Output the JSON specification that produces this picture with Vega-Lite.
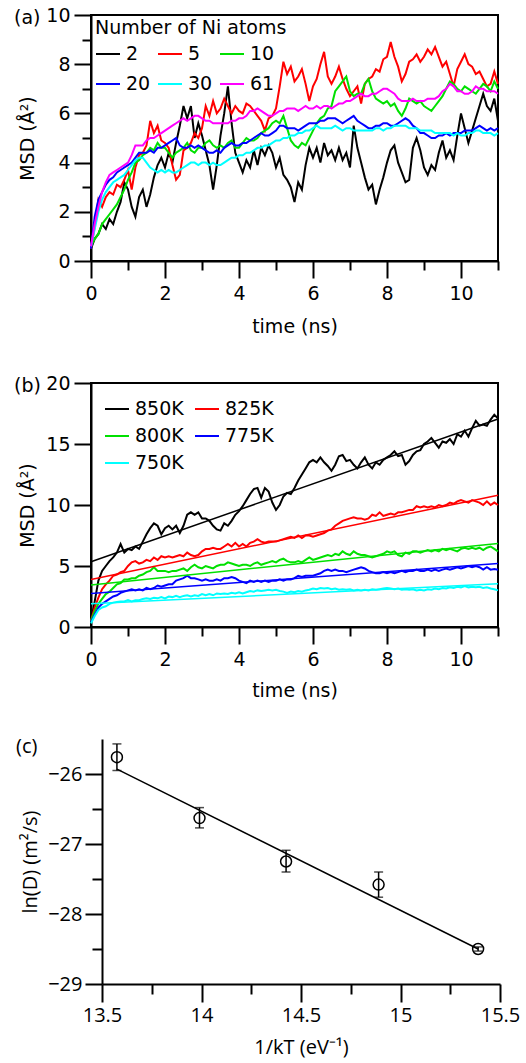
{
"$schema": "https://vega.github.io/schema/vega-lite/v6.json",
"background": "white",
"padding": {"left": 13, "top": 5, "right": 2, "bottom": 2},
"columns": 1,
"spacing": 36,
"resolve": {"scale": {"x": "independent", "y": "independent", "color": "independent"}},
"config": {
  "font": "DejaVu Sans",
  "view": {"stroke": "black", "strokeWidth": 2},
  "axis": {"grid": false, "domainColor": "black", "domainWidth": 2, "tickColor": "black", "tickWidth": 2, "labelColor": "black", "titleColor": "black", "labelFontSize": 19, "titleFontSize": 19, "titleFontWeight": "normal", "labelFlush": false, "labelOverlap": false},
  "legend": {"labelFontSize": 19, "titleFontSize": 19, "titleFontWeight": "normal", "labelColor": "black", "titleColor": "black", "symbolType": "stroke", "symbolSize": 576, "symbolStrokeWidth": 2, "labelOffset": 5, "padding": 0, "titleLimit": 400, "labelLimit": 200},
  "title": {"fontSize": 19, "fontWeight": "normal", "anchor": "start", "frame": "group", "color": "black"}
},
"concat": [
{
  "width": 407, "height": 246,
  "title": {"text": "(a)", "dx": -77, "baseline": "middle", "offset": -31},
  "data": {"values": [
{"t":0.0,"2":0.5,"5":0.5,"10":0.6,"20":0.5,"30":0.6,"61":0.6},
{"t":0.1,"2":0.9,"5":1.4,"10":0.9,"20":1.8,"30":1.3,"61":1.5},
{"t":0.2,"2":1.1,"5":2.5,"10":1.1,"20":2.5,"30":2.0,"61":2.2},
{"t":0.3,"2":1.5,"5":2.2,"10":1.5,"20":2.8,"30":2.5,"61":2.8},
{"t":0.4,"2":1.3,"5":2.6,"10":1.7,"20":3.1,"30":2.8,"61":3.2},
{"t":0.5,"2":1.7,"5":2.8,"10":1.9,"20":3.3,"30":3.0,"61":3.5},
{"t":0.6,"2":1.5,"5":2.7,"10":2.1,"20":3.4,"30":3.2,"61":3.6},
{"t":0.7,"2":2.0,"5":3.1,"10":2.3,"20":3.6,"30":3.3,"61":3.7},
{"t":0.8,"2":2.4,"5":3.0,"10":2.6,"20":3.7,"30":3.4,"61":3.8},
{"t":0.9,"2":3.2,"5":3.3,"10":2.9,"20":3.8,"30":3.5,"61":3.9},
{"t":1.0,"2":2.9,"5":3.7,"10":3.3,"20":3.9,"30":3.7,"61":4.0},
{"t":1.1,"2":2.2,"5":2.9,"10":3.6,"20":4.0,"30":3.9,"61":4.3},
{"t":1.2,"2":1.8,"5":3.8,"10":4.0,"20":4.2,"30":4.1,"61":4.7},
{"t":1.3,"2":2.6,"5":4.3,"10":4.1,"20":4.4,"30":4.2,"61":4.7},
{"t":1.4,"2":2.9,"5":4.4,"10":4.3,"20":4.4,"30":4.2,"61":4.7},
{"t":1.5,"2":2.2,"5":4.7,"10":4.4,"20":4.4,"30":4.0,"61":4.9},
{"t":1.6,"2":2.7,"5":5.7,"10":4.6,"20":4.5,"30":3.8,"61":5.0},
{"t":1.7,"2":3.4,"5":5.2,"10":4.5,"20":4.4,"30":3.7,"61":5.0},
{"t":1.8,"2":3.9,"5":5.5,"10":4.8,"20":4.6,"30":3.6,"61":5.1},
{"t":1.9,"2":4.2,"5":4.9,"10":4.6,"20":4.6,"30":3.7,"61":5.2},
{"t":2.0,"2":3.8,"5":4.8,"10":4.6,"20":4.7,"30":3.6,"61":5.3},
{"t":2.1,"2":4.4,"5":4.6,"10":4.4,"20":4.8,"30":3.7,"61":5.4},
{"t":2.2,"2":4.0,"5":3.9,"10":4.2,"20":4.9,"30":3.6,"61":5.5},
{"t":2.3,"2":4.8,"5":3.3,"10":4.4,"20":5.0,"30":3.6,"61":5.6},
{"t":2.4,"2":5.5,"5":3.5,"10":4.5,"20":4.7,"30":3.7,"61":5.7},
{"t":2.5,"2":6.3,"5":4.5,"10":4.6,"20":4.6,"30":3.8,"61":5.8},
{"t":2.6,"2":5.8,"5":4.6,"10":4.8,"20":4.6,"30":3.9,"61":5.7},
{"t":2.7,"2":6.3,"5":4.8,"10":4.5,"20":4.7,"30":4.0,"61":5.8},
{"t":2.8,"2":5.0,"5":5.2,"10":4.4,"20":4.6,"30":4.0,"61":5.9},
{"t":2.9,"2":5.6,"5":5.0,"10":4.6,"20":4.7,"30":3.9,"61":5.9},
{"t":3.0,"2":5.1,"5":5.4,"10":4.6,"20":4.6,"30":4.0,"61":5.8},
{"t":3.1,"2":4.5,"5":6.3,"10":4.8,"20":4.5,"30":4.0,"61":5.7},
{"t":3.2,"2":3.9,"5":5.9,"10":4.9,"20":4.4,"30":3.9,"61":5.7},
{"t":3.3,"2":2.9,"5":6.5,"10":4.7,"20":4.4,"30":4.0,"61":5.6},
{"t":3.4,"2":3.9,"5":6.0,"10":4.6,"20":4.5,"30":3.9,"61":5.6},
{"t":3.5,"2":5.1,"5":6.2,"10":4.7,"20":4.4,"30":3.9,"61":5.6},
{"t":3.6,"2":6.0,"5":6.6,"10":4.6,"20":4.6,"30":4.0,"61":5.6},
{"t":3.7,"2":7.1,"5":6.3,"10":4.8,"20":4.7,"30":4.1,"61":5.6},
{"t":3.8,"2":5.6,"5":6.0,"10":4.9,"20":4.8,"30":4.2,"61":5.7},
{"t":3.9,"2":4.4,"5":6.3,"10":4.6,"20":4.7,"30":4.2,"61":5.7},
{"t":4.0,"2":4.0,"5":6.1,"10":4.6,"20":4.7,"30":4.3,"61":5.8},
{"t":4.1,"2":3.6,"5":6.0,"10":4.8,"20":4.8,"30":4.3,"61":5.8},
{"t":4.2,"2":4.1,"5":6.4,"10":5.0,"20":4.8,"30":4.4,"61":5.9},
{"t":4.3,"2":3.8,"5":6.3,"10":4.9,"20":4.9,"30":4.4,"61":6.1},
{"t":4.4,"2":4.5,"5":6.1,"10":4.9,"20":5.0,"30":4.5,"61":6.1},
{"t":4.5,"2":3.9,"5":5.9,"10":5.0,"20":5.1,"30":4.6,"61":6.2},
{"t":4.6,"2":4.6,"5":5.7,"10":5.2,"20":5.2,"30":4.6,"61":6.1},
{"t":4.7,"2":4.3,"5":5.3,"10":5.3,"20":5.1,"30":4.7,"61":6.0},
{"t":4.8,"2":4.7,"5":5.8,"10":5.4,"20":5.1,"30":4.7,"61":5.9},
{"t":4.9,"2":4.4,"5":5.9,"10":5.6,"20":5.2,"30":4.8,"61":5.9},
{"t":5.0,"2":3.8,"5":6.2,"10":5.7,"20":5.3,"30":4.9,"61":6.0},
{"t":5.1,"2":4.2,"5":7.1,"10":5.6,"20":5.5,"30":4.9,"61":6.1},
{"t":5.2,"2":3.5,"5":8.1,"10":5.9,"20":5.5,"30":5.0,"61":6.1},
{"t":5.3,"2":3.3,"5":7.6,"10":5.4,"20":5.4,"30":5.0,"61":6.2},
{"t":5.4,"2":3.0,"5":7.9,"10":4.9,"20":5.4,"30":5.1,"61":6.2},
{"t":5.5,"2":2.4,"5":7.3,"10":4.7,"20":5.4,"30":5.1,"61":6.2},
{"t":5.6,"2":3.2,"5":7.5,"10":4.6,"20":5.3,"30":5.2,"61":6.1},
{"t":5.7,"2":2.9,"5":7.8,"10":4.8,"20":5.4,"30":5.2,"61":6.2},
{"t":5.8,"2":3.9,"5":7.2,"10":4.7,"20":5.5,"30":5.3,"61":6.3},
{"t":5.9,"2":4.6,"5":6.5,"10":5.0,"20":5.6,"30":5.3,"61":6.2},
{"t":6.0,"2":4.2,"5":7.1,"10":5.3,"20":5.6,"30":5.4,"61":6.2},
{"t":6.1,"2":4.6,"5":7.4,"10":5.6,"20":5.6,"30":5.5,"61":6.3},
{"t":6.2,"2":4.0,"5":8.0,"10":5.8,"20":5.7,"30":5.4,"61":6.2},
{"t":6.3,"2":4.8,"5":8.5,"10":5.9,"20":5.7,"30":5.4,"61":6.3},
{"t":6.4,"2":4.3,"5":7.5,"10":6.2,"20":5.8,"30":5.4,"61":6.3},
{"t":6.5,"2":4.5,"5":7.2,"10":6.3,"20":5.8,"30":5.4,"61":6.2},
{"t":6.6,"2":4.1,"5":7.5,"10":6.9,"20":5.8,"30":5.5,"61":6.3},
{"t":6.7,"2":4.6,"5":7.9,"10":7.1,"20":5.7,"30":5.4,"61":6.4},
{"t":6.8,"2":4.1,"5":7.4,"10":7.3,"20":5.6,"30":5.3,"61":6.4},
{"t":6.9,"2":4.4,"5":7.0,"10":7.5,"20":5.7,"30":5.4,"61":6.5},
{"t":7.0,"2":3.8,"5":6.7,"10":6.9,"20":5.8,"30":5.4,"61":6.5},
{"t":7.1,"2":5.5,"5":6.9,"10":6.7,"20":5.9,"30":5.3,"61":6.6},
{"t":7.2,"2":4.6,"5":7.1,"10":6.8,"20":5.7,"30":5.3,"61":6.7},
{"t":7.3,"2":4.0,"5":6.4,"10":6.8,"20":5.6,"30":5.3,"61":6.8},
{"t":7.4,"2":3.4,"5":7.2,"10":7.2,"20":5.5,"30":5.3,"61":6.7},
{"t":7.5,"2":2.9,"5":7.4,"10":7.4,"20":5.4,"30":5.3,"61":6.7},
{"t":7.6,"2":3.1,"5":7.5,"10":6.9,"20":5.4,"30":5.3,"61":6.8},
{"t":7.7,"2":2.3,"5":7.8,"10":6.6,"20":5.5,"30":5.4,"61":6.8},
{"t":7.8,"2":2.9,"5":7.7,"10":6.5,"20":5.5,"30":5.4,"61":6.9},
{"t":7.9,"2":3.4,"5":8.2,"10":6.4,"20":5.6,"30":5.3,"61":7.0},
{"t":8.0,"2":4.0,"5":8.3,"10":6.5,"20":5.6,"30":5.4,"61":7.0},
{"t":8.1,"2":4.5,"5":8.9,"10":6.3,"20":5.5,"30":5.4,"61":6.9},
{"t":8.2,"2":4.7,"5":8.3,"10":6.4,"20":5.5,"30":5.5,"61":6.8},
{"t":8.3,"2":4.0,"5":7.9,"10":6.1,"20":5.6,"30":5.5,"61":6.6},
{"t":8.4,"2":3.6,"5":7.3,"10":5.9,"20":5.7,"30":5.5,"61":6.5},
{"t":8.5,"2":3.2,"5":7.6,"10":6.2,"20":5.8,"30":5.5,"61":6.5},
{"t":8.6,"2":3.3,"5":8.1,"10":6.6,"20":5.7,"30":5.4,"61":6.5},
{"t":8.7,"2":4.6,"5":8.2,"10":6.5,"20":5.5,"30":5.4,"61":6.6},
{"t":8.8,"2":5.0,"5":8.4,"10":6.4,"20":5.4,"30":5.4,"61":6.5},
{"t":8.9,"2":4.5,"5":8.1,"10":6.5,"20":5.2,"30":5.3,"61":6.5},
{"t":9.0,"2":3.8,"5":8.3,"10":6.3,"20":5.2,"30":5.3,"61":6.5},
{"t":9.1,"2":3.5,"5":8.6,"10":6.2,"20":5.1,"30":5.3,"61":6.6},
{"t":9.2,"2":3.9,"5":8.4,"10":6.1,"20":5.0,"30":5.3,"61":6.6},
{"t":9.3,"2":3.7,"5":8.7,"10":6.3,"20":5.0,"30":5.2,"61":6.6},
{"t":9.4,"2":4.4,"5":8.3,"10":6.5,"20":5.1,"30":5.2,"61":6.7},
{"t":9.5,"2":4.9,"5":7.9,"10":6.7,"20":5.1,"30":5.2,"61":6.9},
{"t":9.6,"2":4.2,"5":8.1,"10":7.0,"20":5.2,"30":5.2,"61":7.0},
{"t":9.7,"2":4.5,"5":7.6,"10":7.3,"20":5.1,"30":5.2,"61":7.2},
{"t":9.8,"2":4.1,"5":7.1,"10":7.2,"20":5.2,"30":5.1,"61":7.1},
{"t":9.9,"2":5.1,"5":7.8,"10":7.0,"20":5.2,"30":5.2,"61":6.9},
{"t":10.0,"2":6.0,"5":8.1,"10":6.9,"20":5.2,"30":5.1,"61":6.9},
{"t":10.1,"2":5.4,"5":8.4,"10":7.1,"20":5.3,"30":5.1,"61":6.8},
{"t":10.2,"2":4.8,"5":8.0,"10":7.0,"20":5.3,"30":5.2,"61":6.8},
{"t":10.3,"2":5.3,"5":7.9,"10":6.9,"20":5.3,"30":5.2,"61":6.9},
{"t":10.4,"2":5.8,"5":7.6,"10":6.8,"20":5.4,"30":5.3,"61":7.1},
{"t":10.5,"2":6.3,"5":7.7,"10":7.0,"20":5.5,"30":5.3,"61":7.0},
{"t":10.6,"2":6.8,"5":7.4,"10":7.2,"20":5.4,"30":5.2,"61":7.0},
{"t":10.7,"2":6.3,"5":7.1,"10":7.1,"20":5.3,"30":5.2,"61":6.9},
{"t":10.8,"2":6.1,"5":7.2,"10":6.9,"20":5.4,"30":5.2,"61":6.9},
{"t":10.9,"2":6.6,"5":7.7,"10":7.3,"20":5.3,"30":5.1,"61":6.9},
{"t":11.0,"2":5.7,"5":7.2,"10":7.0,"20":5.4,"30":5.2,"61":6.8}
  ]},
  "transform": [{"fold": ["2","5","10","20","30","61"], "as": ["n","v"]}],
  "mark": {"type": "line", "strokeWidth": 2},
  "encoding": {
    "x": {"field": "t", "type": "quantitative", "scale": {"domain": [0, 11], "nice": false},
      "axis": {"title": "time (ns)", "values": [0,1,2,3,4,5,6,7,8,9,10,11], "labelExpr": "datum.value % 2 === 0 ? datum.label : ''", "tickSize": {"condition": {"test": "datum.value % 2 === 0", "value": 17}, "value": 9}, "labelPadding": 6, "titlePadding": 14}},
    "y": {"field": "v", "type": "quantitative", "scale": {"domain": [0, 10], "nice": false},
      "axis": {"title": "MSD (Å²)", "values": [0,1,2,3,4,5,6,7,8,9,10], "labelExpr": "datum.value % 2 === 0 ? datum.label : ''", "tickSize": {"condition": {"test": "datum.value % 2 === 0", "value": 17}, "value": 9}, "labelPadding": 4, "titlePadding": 8}},
    "color": {"field": "n", "type": "nominal",
      "scale": {"domain": ["2","5","10","20","30","61"], "range": ["#000000","#ff0000","#00e000","#0000ff","#00ffff","#ff00ff"]},
      "legend": {"title": "Number of Ni atoms", "orient": "top-left", "offset": 4, "direction": "horizontal", "columns": 3, "columnPadding": 3, "rowPadding": 7, "titlePadding": 3}}
  }
},
{
  "width": 407, "height": 244,
  "title": {"text": "(b)", "dx": -77, "baseline": "middle", "offset": -31},
  "encoding": {
    "x": {"field": "t", "type": "quantitative", "scale": {"domain": [0, 11], "nice": false},
      "axis": {"title": "time (ns)", "values": [0,1,2,3,4,5,6,7,8,9,10,11], "labelExpr": "datum.value % 2 === 0 ? datum.label : ''", "tickSize": {"condition": {"test": "datum.value % 2 === 0", "value": 17}, "value": 9}, "labelPadding": 6, "titlePadding": 12}},
    "y": {"field": "v", "type": "quantitative", "scale": {"domain": [0, 20], "nice": false},
      "axis": {"title": "MSD (Å²)", "values": [0,5,10,15,20], "tickSize": 17, "labelPadding": 4, "titlePadding": 8}},
    "color": {"field": "T", "type": "nominal",
      "scale": {"domain": ["850K","825K","800K","775K","750K"], "range": ["#000000","#ff0000","#00e000","#0000ff","#00ffff"]},
      "legend": {"title": null, "orient": "top-left", "offset": 13, "direction": "horizontal", "columns": 2, "columnPadding": 7, "rowPadding": 4}}
  },
  "layer": [
    {
      "data": {"values": [
{"t":0.0,"850K":0.5,"825K":0.5,"800K":0.5,"775K":0.4,"750K":0.3},
{"t":0.1,"850K":2.1,"825K":1.6,"800K":1.3,"775K":1.0,"750K":0.9},
{"t":0.2,"850K":3.8,"825K":2.4,"800K":1.9,"775K":1.6,"750K":1.4},
{"t":0.3,"850K":4.6,"825K":3.1,"800K":2.3,"775K":1.9,"750K":1.6},
{"t":0.4,"850K":5.0,"825K":3.5,"800K":2.7,"775K":2.1,"750K":1.7},
{"t":0.5,"850K":5.4,"825K":3.8,"800K":2.9,"775K":2.3,"750K":1.9},
{"t":0.6,"850K":5.7,"825K":4.2,"800K":3.2,"775K":2.5,"750K":2.0},
{"t":0.7,"850K":6.1,"825K":4.3,"800K":3.5,"775K":2.6,"750K":2.05},
{"t":0.8,"850K":6.8,"825K":4.5,"800K":3.6,"775K":2.8,"750K":2.1},
{"t":0.9,"850K":6.1,"825K":4.6,"800K":3.9,"775K":2.9,"750K":2.1},
{"t":1.0,"850K":6.4,"825K":5.0,"800K":3.9,"775K":3.0,"750K":2.2},
{"t":1.1,"850K":6.3,"825K":5.3,"800K":4.0,"775K":3.1,"750K":2.1},
{"t":1.2,"850K":6.6,"825K":5.4,"800K":4.0,"775K":3.0,"750K":2.2},
{"t":1.3,"850K":6.4,"825K":5.2,"800K":4.2,"775K":3.1,"750K":2.2},
{"t":1.4,"850K":7.0,"825K":5.3,"800K":4.3,"775K":3.0,"750K":2.3},
{"t":1.5,"850K":7.6,"825K":5.5,"800K":4.5,"775K":3.2,"750K":2.35},
{"t":1.6,"850K":8.1,"825K":5.4,"800K":4.6,"775K":3.1,"750K":2.3},
{"t":1.7,"850K":8.5,"825K":5.7,"800K":4.9,"775K":3.2,"750K":2.4},
{"t":1.8,"850K":8.3,"825K":5.5,"800K":4.6,"775K":3.4,"750K":2.35},
{"t":1.9,"850K":7.6,"825K":5.8,"800K":4.6,"775K":3.3,"750K":2.45},
{"t":2.0,"850K":8.1,"825K":5.7,"800K":4.6,"775K":3.4,"750K":2.35},
{"t":2.1,"850K":8.3,"825K":5.8,"800K":4.5,"775K":3.5,"750K":2.5},
{"t":2.2,"850K":8.0,"825K":5.7,"800K":4.6,"775K":3.5,"750K":2.45},
{"t":2.3,"850K":8.3,"825K":5.8,"800K":4.6,"775K":3.8,"750K":2.55},
{"t":2.4,"850K":7.7,"825K":5.9,"800K":4.7,"775K":3.9,"750K":2.45},
{"t":2.5,"850K":8.3,"825K":5.8,"800K":4.8,"775K":4.0,"750K":2.55},
{"t":2.6,"850K":9.2,"825K":6.1,"800K":4.6,"775K":4.2,"750K":2.6},
{"t":2.7,"850K":9.4,"825K":5.9,"800K":4.9,"775K":4.0,"750K":2.5},
{"t":2.8,"850K":9.2,"825K":5.8,"800K":5.1,"775K":4.0,"750K":2.6},
{"t":2.9,"850K":9.4,"825K":5.9,"800K":4.9,"775K":3.9,"750K":2.55},
{"t":3.0,"850K":8.9,"825K":6.2,"800K":4.8,"775K":3.8,"750K":2.7},
{"t":3.1,"850K":8.9,"825K":6.4,"800K":5.0,"775K":3.9,"750K":2.6},
{"t":3.2,"850K":8.7,"825K":6.4,"800K":4.9,"775K":3.8,"750K":2.7},
{"t":3.3,"850K":8.3,"825K":6.5,"800K":4.8,"775K":3.8,"750K":2.6},
{"t":3.4,"850K":8.0,"825K":6.4,"800K":5.0,"775K":3.9,"750K":2.75},
{"t":3.5,"850K":7.9,"825K":6.4,"800K":5.1,"775K":3.8,"750K":2.7},
{"t":3.6,"850K":8.5,"825K":6.6,"800K":5.1,"775K":4.0,"750K":2.75},
{"t":3.7,"850K":8.3,"825K":6.8,"800K":5.3,"775K":4.0,"750K":2.7},
{"t":3.8,"850K":8.7,"825K":6.6,"800K":5.2,"775K":4.1,"750K":2.8},
{"t":3.9,"850K":9.2,"825K":6.9,"800K":5.1,"775K":4.0,"750K":2.75},
{"t":4.0,"850K":9.5,"825K":6.6,"800K":5.0,"775K":3.8,"750K":2.85},
{"t":4.1,"850K":9.9,"825K":6.8,"800K":5.1,"775K":3.7,"750K":2.75},
{"t":4.2,"850K":10.4,"825K":6.6,"800K":5.1,"775K":3.6,"750K":2.85},
{"t":4.3,"850K":10.9,"825K":6.9,"800K":5.0,"775K":3.8,"750K":2.95},
{"t":4.4,"850K":11.3,"825K":7.0,"800K":5.2,"775K":3.7,"750K":2.9},
{"t":4.5,"850K":11.4,"825K":7.2,"800K":5.3,"775K":3.8,"750K":3.0},
{"t":4.6,"850K":10.6,"825K":7.0,"800K":5.1,"775K":3.7,"750K":2.95},
{"t":4.7,"850K":11.4,"825K":6.9,"800K":5.2,"775K":3.8,"750K":3.0},
{"t":4.8,"850K":11.1,"825K":7.0,"800K":5.3,"775K":3.7,"750K":3.05},
{"t":4.9,"850K":10.2,"825K":7.0,"800K":5.4,"775K":3.8,"750K":3.0},
{"t":5.0,"850K":9.6,"825K":7.0,"800K":5.3,"775K":3.8,"750K":3.05},
{"t":5.1,"850K":10.0,"825K":7.1,"800K":5.5,"775K":3.9,"750K":2.95},
{"t":5.2,"850K":10.7,"825K":7.2,"800K":5.6,"775K":3.8,"750K":2.9},
{"t":5.3,"850K":11.0,"825K":7.3,"800K":5.4,"775K":3.9,"750K":2.8},
{"t":5.4,"850K":10.9,"825K":7.4,"800K":5.3,"775K":3.9,"750K":2.9},
{"t":5.5,"850K":11.4,"825K":7.3,"800K":5.3,"775K":4.0,"750K":2.85},
{"t":5.6,"850K":12.0,"825K":7.5,"800K":5.4,"775K":4.2,"750K":2.95},
{"t":5.7,"850K":12.5,"825K":7.3,"800K":5.3,"775K":4.1,"750K":2.9},
{"t":5.8,"850K":13.0,"825K":7.5,"800K":5.5,"775K":4.2,"750K":3.0},
{"t":5.9,"850K":13.5,"825K":7.5,"800K":5.7,"775K":4.2,"750K":3.05},
{"t":6.0,"850K":13.7,"825K":7.4,"800K":5.5,"775K":4.2,"750K":3.15},
{"t":6.1,"850K":13.5,"825K":7.5,"800K":5.6,"775K":4.3,"750K":3.1},
{"t":6.2,"850K":13.9,"825K":7.6,"800K":5.7,"775K":4.4,"750K":3.2},
{"t":6.3,"850K":13.5,"825K":7.7,"800K":5.8,"775K":4.6,"750K":3.15},
{"t":6.4,"850K":13.2,"825K":7.9,"800K":5.9,"775K":4.7,"750K":3.2},
{"t":6.5,"850K":12.8,"825K":8.0,"800K":5.8,"775K":4.6,"750K":3.1},
{"t":6.6,"850K":13.3,"825K":8.3,"800K":6.0,"775K":4.7,"750K":3.15},
{"t":6.7,"850K":14.0,"825K":8.5,"800K":5.9,"775K":4.6,"750K":3.05},
{"t":6.8,"850K":14.1,"825K":8.7,"800K":6.2,"775K":4.6,"750K":3.1},
{"t":6.9,"850K":13.6,"825K":8.8,"800K":6.0,"775K":4.5,"750K":3.05},
{"t":7.0,"850K":13.7,"825K":8.9,"800K":5.9,"775K":4.6,"750K":3.1},
{"t":7.1,"850K":13.3,"825K":9.0,"800K":6.2,"775K":4.7,"750K":3.0},
{"t":7.2,"850K":13.0,"825K":8.9,"800K":6.0,"775K":4.8,"750K":3.05},
{"t":7.3,"850K":13.5,"825K":8.9,"800K":5.9,"775K":4.9,"750K":3.0},
{"t":7.4,"850K":13.9,"825K":8.8,"800K":5.9,"775K":4.8,"750K":3.05},
{"t":7.5,"850K":13.3,"825K":8.9,"800K":5.8,"775K":4.6,"750K":3.0},
{"t":7.6,"850K":13.0,"825K":9.2,"800K":5.7,"775K":4.5,"750K":3.1},
{"t":7.7,"850K":13.5,"825K":9.1,"800K":5.8,"775K":4.4,"750K":3.05},
{"t":7.8,"850K":13.3,"825K":9.4,"800K":5.9,"775K":4.4,"750K":3.1},
{"t":7.9,"850K":13.7,"825K":9.1,"800K":6.0,"775K":4.5,"750K":3.15},
{"t":8.0,"850K":13.9,"825K":9.2,"800K":6.2,"775K":4.4,"750K":3.2},
{"t":8.1,"850K":14.1,"825K":9.3,"800K":6.1,"775K":4.5,"750K":3.15},
{"t":8.2,"850K":14.4,"825K":9.2,"800K":6.2,"775K":4.4,"750K":3.1},
{"t":8.3,"850K":14.0,"825K":9.4,"800K":5.9,"775K":4.5,"750K":3.15},
{"t":8.4,"850K":14.1,"825K":9.4,"800K":5.8,"775K":4.6,"750K":3.05},
{"t":8.5,"850K":13.3,"825K":9.5,"800K":6.1,"775K":4.5,"750K":3.1},
{"t":8.6,"850K":13.6,"825K":9.6,"800K":6.0,"775K":4.6,"750K":3.05},
{"t":8.7,"850K":14.1,"825K":9.6,"800K":6.2,"775K":4.6,"750K":3.1},
{"t":8.8,"850K":14.4,"825K":9.9,"800K":6.2,"775K":4.7,"750K":3.0},
{"t":8.9,"850K":14.5,"825K":9.8,"800K":6.1,"775K":4.6,"750K":3.05},
{"t":9.0,"850K":15.0,"825K":9.9,"800K":6.2,"775K":4.6,"750K":3.0},
{"t":9.1,"850K":15.2,"825K":9.8,"800K":6.3,"775K":4.7,"750K":3.1},
{"t":9.2,"850K":15.5,"825K":9.9,"800K":6.2,"775K":4.6,"750K":3.05},
{"t":9.3,"850K":15.1,"825K":9.8,"800K":6.3,"775K":4.7,"750K":3.15},
{"t":9.4,"850K":14.7,"825K":10.0,"800K":6.2,"775K":4.6,"750K":3.1},
{"t":9.5,"850K":15.2,"825K":9.9,"800K":6.4,"775K":4.7,"750K":3.2},
{"t":9.6,"850K":15.1,"825K":10.0,"800K":6.3,"775K":4.8,"750K":3.15},
{"t":9.7,"850K":15.4,"825K":10.2,"800K":6.4,"775K":4.7,"750K":3.25},
{"t":9.8,"850K":15.0,"825K":10.1,"800K":6.3,"775K":4.8,"750K":3.2},
{"t":9.9,"850K":15.8,"825K":10.3,"800K":6.2,"775K":4.9,"750K":3.3},
{"t":10.0,"850K":15.6,"825K":10.4,"800K":6.4,"775K":4.8,"750K":3.25},
{"t":10.1,"850K":16.1,"825K":10.3,"800K":6.5,"775K":4.9,"750K":3.35},
{"t":10.2,"850K":15.6,"825K":10.2,"800K":6.4,"775K":5.0,"750K":3.25},
{"t":10.3,"850K":16.3,"825K":10.4,"800K":6.5,"775K":4.9,"750K":3.3},
{"t":10.4,"850K":16.9,"825K":10.3,"800K":6.4,"775K":5.0,"750K":3.25},
{"t":10.5,"850K":16.5,"825K":10.2,"800K":6.5,"775K":4.9,"750K":3.3},
{"t":10.6,"850K":16.6,"825K":10.0,"800K":6.3,"775K":4.7,"750K":3.2},
{"t":10.7,"850K":16.5,"825K":10.3,"800K":6.5,"775K":4.9,"750K":3.25},
{"t":10.8,"850K":17.0,"825K":10.0,"800K":6.6,"775K":4.7,"750K":3.15},
{"t":10.9,"850K":17.4,"825K":10.2,"800K":6.4,"775K":4.75,"750K":3.1},
{"t":11.0,"850K":17.1,"825K":10.0,"800K":6.2,"775K":4.7,"750K":3.0}
      ]},
      "transform": [{"fold": ["850K","825K","800K","775K","750K"], "as": ["T","v"]}],
      "mark": {"type": "line", "strokeWidth": 2}
    },
    {
      "data": {"values": [
        {"T":"850K","t":0,"v":5.35},{"T":"850K","t":11,"v":17.05},
        {"T":"825K","t":0,"v":3.9},{"T":"825K","t":11,"v":10.8},
        {"T":"800K","t":0,"v":3.45},{"T":"800K","t":11,"v":6.85},
        {"T":"775K","t":0,"v":2.75},{"T":"775K","t":11,"v":5.2},
        {"T":"750K","t":0,"v":1.9},{"T":"750K","t":11,"v":3.55}
      ]},
      "mark": {"type": "line", "strokeWidth": 1.5}
    }
  ]
},
{
  "width": 409, "height": 245,
  "view": {"stroke": null},
  "title": {"text": "(c)", "dx": -75, "baseline": "middle", "offset": -28, "font": "Open Sans", "fontSize": 20},
  "encoding": {
    "x": {"field": "x", "type": "quantitative", "scale": {"domain": [13.5, 15.5], "range": [11, 409], "nice": false, "zero": false},
      "axis": {"title": "1/kT (eV⁻¹)", "values": [13.5,13.75,14,14.25,14.5,14.75,15,15.25,15.5], "labelExpr": "(datum.value * 2) % 1 === 0 ? format(datum.value, '~f') : ''", "tickSize": {"condition": {"test": "(datum.value * 2) % 1 === 0", "value": 18}, "value": 10}, "labelPadding": 3, "titlePadding": 12, "labelFont": "Open Sans", "titleFont": "Open Sans", "labelFontSize": 20, "titleFontSize": 20}}
  },
  "layer": [
    {
      "data": {"values": [{}]},
      "mark": {"type": "rect", "fillOpacity": 0, "stroke": "black", "strokeWidth": 2},
      "encoding": {
        "x": {"datum": 13.5}, "x2": {"datum": 15.5},
        "y": {"datum": -29, "type": "quantitative", "title": "ln(D) (m²/s)", "scale": {"domain": [-29, -25.5], "nice": false, "zero": false},
          "axis": {"values": [-29,-28.5,-28,-27.5,-27,-26.5,-26], "labelExpr": "datum.value % 1 === 0 ? format(datum.value, 'd') : ''", "tickSize": {"condition": {"test": "datum.value % 1 === 0", "value": 17}, "value": 10}, "labelPadding": 3, "titlePadding": 7, "offset": -11, "labelFont": "Open Sans", "titleFont": "Open Sans", "labelFontSize": 20, "titleFontSize": 20}},
        "y2": {"datum": -25.5}
      }
    },
    {
      "data": {"values": [{"x":13.575,"y":-25.93},{"x":15.39,"y":-28.50}]},
      "mark": {"type": "line", "color": "black", "strokeWidth": 1.5},
      "encoding": {"y": {"field": "y", "type": "quantitative", "title": "ln(D) (m²/s)"}}
    },
    {
      "data": {"values": [
        {"x":13.575,"y":-25.76,"lo":-25.95,"hi":-25.57},
        {"x":13.99,"y":-26.63,"lo":-26.77,"hi":-26.48},
        {"x":14.425,"y":-27.25,"lo":-27.40,"hi":-27.09},
        {"x":14.89,"y":-27.58,"lo":-27.76,"hi":-27.40},
        {"x":15.39,"y":-28.50,"lo":-28.53,"hi":-28.47}
      ]},
      "layer": [
        {"mark": {"type": "rule", "color": "black", "strokeWidth": 1.5},
         "encoding": {"y": {"field": "lo", "type": "quantitative", "title": "ln(D) (m²/s)"}, "y2": {"field": "hi"}}},
        {"mark": {"type": "tick", "orient": "horizontal", "size": 9, "thickness": 1.5, "color": "black"},
         "encoding": {"y": {"field": "lo", "type": "quantitative", "title": "ln(D) (m²/s)"}}},
        {"mark": {"type": "tick", "orient": "horizontal", "size": 9, "thickness": 1.5, "color": "black"},
         "encoding": {"y": {"field": "hi", "type": "quantitative", "title": "ln(D) (m²/s)"}}},
        {"mark": {"type": "point", "shape": "circle", "size": 120, "filled": false, "color": "black", "strokeWidth": 1.5, "opacity": 1},
         "encoding": {"y": {"field": "y", "type": "quantitative", "title": "ln(D) (m²/s)"}}}
      ]
    }
  ]
}
]
}
